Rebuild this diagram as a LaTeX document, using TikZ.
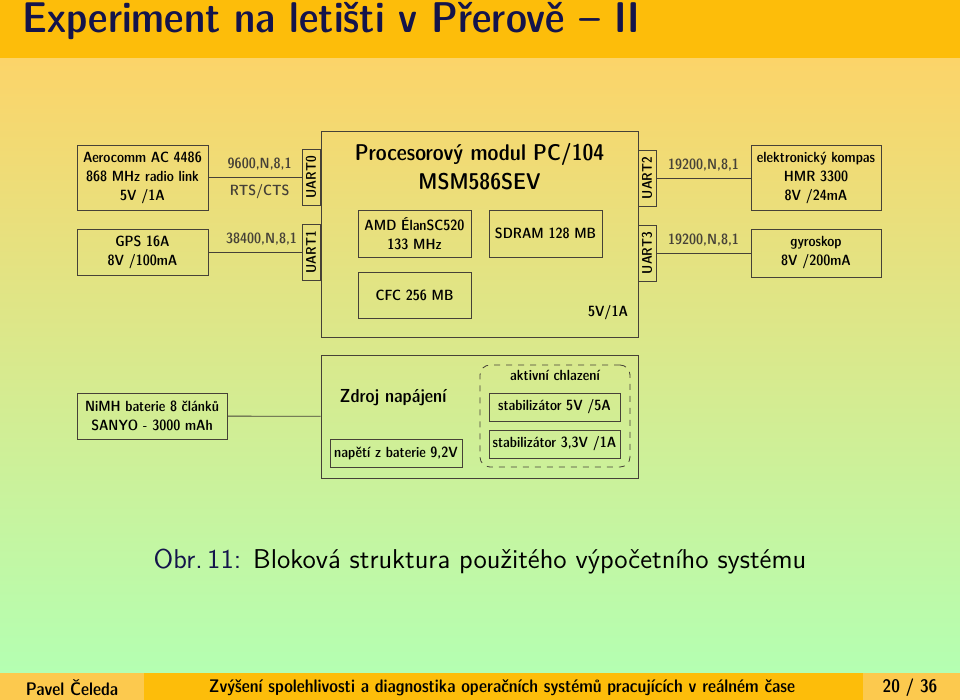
\documentclass[tikz,border=0pt]{standalone}
\usepackage{tikz}
\definecolor{lista}{RGB}{253,189,10}
\definecolor{listasvetla}{RGB}{252,201,78}
\definecolor{pozadihore}{RGB}{252,212,105}
\definecolor{pozadistred}{RGB}{249,249,218}
\definecolor{pozadidole}{RGB}{180,255,178}
\definecolor{nadpis}{RGB}{20,20,75}
\definecolor{cara}{RGB}{70,65,55}
\tikzset{
  blok/.style={draw=cara, thin, align=center, inner sep=0pt,
    font=\sffamily\fontseries{sbc}\fontsize{7.4}{9.5}\selectfont},
  uart/.style={draw=cara, thin, rotate=90, inner sep=0pt,
    minimum width=28pt, minimum height=9pt,
    font=\sffamily\fontseries{sbc}\fontsize{7}{8}\selectfont},
  popis/.style={font=\sffamily\fontseries{sbc}\fontsize{7.4}{9}\selectfont},
  pata/.style={font=\sffamily\fontseries{sbc}\fontsize{9.1}{10}\selectfont},
}
\begin{document}
\begin{tikzpicture}[x=0.5pt,y=-0.5pt]
  \useasboundingbox (0,0) rectangle (960,700);
  % Pozadi
  \shade[top color=pozadihore, middle color=pozadistred, bottom color=pozadidole]
    (0,58) rectangle (960,673);
  \fill[lista] (0,0) rectangle (960,58);
  \fill[listasvetla] (0,673) rectangle (144,700);
  \fill[lista] (144,673) rectangle (863,700);
  \fill[listasvetla] (863,673) rectangle (960,700);
  % Nadpis
  \node[anchor=base west, text=nadpis, inner sep=0pt, xscale=1.025,
    font=\sffamily\fontseries{sbc}\fontsize{21.5}{24}\selectfont] (nadpis) at (22,33)
    {Experiment na letišti v Přerově -- II};
  % Pata
  \node[pata] (autor) at (72,688) {Pavel Čeleda};
  \node[pata] (tema) at (502,688)
    {Zvýšení spolehlivosti a diagnostika operačních systémů pracujících v reálném čase};
  \node[pata] (strana) at (910,688) {20 / 36};
  % Procesorovy modul
  \node[blok, minimum width=158.5pt, minimum height=103pt] (proc) at (479.5,234) {};
  \node[align=center, font=\sffamily\fontseries{sbc}\fontsize{11.4}{14.5}\selectfont]
    (procnazev) at (479.5,167) {Procesorový modul PC/104\\MSM586SEV};
  \node[blok, minimum width=56.5pt, minimum height=23.5pt] (amd) at (414.5,233.5)
    {AMD ÉlanSC520\\133 MHz};
  \node[blok, minimum width=56.5pt, minimum height=23.5pt] (sdram) at (545.5,233.5)
    {SDRAM 128 MB};
  \node[blok, minimum width=56.5pt, minimum height=23pt] (cfc) at (414.5,295) {CFC 256 MB};
  \node[popis] (napajeni) at (608,313) {5V/1A};
  % Porty
  \foreach \n/\x/\y in {0/311/177.5, 1/311/252.5, 2/647/178, 3/647/253}
    \node[uart] (uart\n) at (\x,\y) {UART\n};
  % Periferie
  \node[blok, minimum width=65.5pt, minimum height=32.5pt] (aero) at (142.5,177.5)
    {Aerocomm AC 4486\\868 MHz radio link\\5V /1A};
  \node[blok, minimum width=65.5pt, minimum height=23pt] (gps) at (142.5,252.5)
    {GPS 16A\\8V /100mA};
  \node[blok, minimum width=65pt, minimum height=32.5pt] (kompas) at (816,178)
    {elektronický kompas\\HMR 3300\\8V /24mA};
  \node[blok, minimum width=65pt, minimum height=24pt] (gyro) at (816,253)
    {gyroskop\\8V /200mA};
  % Spoje
  \draw[cara] (aero) -- (uart0)
    node[popis, pos=0.55, above] {9600,N,8,1} node[popis, pos=0.55, below] {RTS/CTS};
  \draw[cara] (gps) -- (uart1) node[popis, pos=0.57, above] {38400,N,8,1};
  \draw[cara] (uart2) -- (kompas) node[popis, midway, above] {19200,N,8,1};
  \draw[cara] (uart3) -- (gyro) node[popis, midway, above] {19200,N,8,1};
  % Zdroj napajeni
  \node[blok, minimum width=158.5pt, minimum height=61.5pt] (zdroj) at (479.5,416.5) {};
  \node[font=\sffamily\fontseries{sbc}\fontsize{9.4}{10}\selectfont] (zdrojnazev) at (393,398)
    {Zdroj napájení};
  \node[blok, minimum width=66pt, minimum height=14pt] (baterie) at (396,453)
    {napětí z baterie 9,2V};
  \node[draw=cara, thin, dashed, rounded corners=5pt, minimum width=75pt, minimum height=51pt]
    (chlazeni) at (555,416) {};
  \node[popis] (aktivni) at (555,375) {aktivní chlazení};
  \node[blok, minimum width=65.5pt, minimum height=14pt] (stab5) at (554.5,407)
    {stabilizátor 5V /5A};
  \node[blok, minimum width=65.5pt, minimum height=14pt] (stab33) at (554.5,444)
    {stabilizátor 3,3V /1A};
  \node[blok, minimum width=75pt, minimum height=23pt] (nimh) at (152,416)
    {NiMH baterie 8 článků\\SANYO - 3000 mAh};
  \draw[cara] (nimh) -- (zdroj);
  % Popisek
  \node[font=\sffamily\fontsize{13.6}{15}\selectfont] (popisek) at (480,562)
    {\textcolor{nadpis}{Obr.\,11:} Bloková struktura použitého výpočetního systému};
\end{tikzpicture}
\end{document}
